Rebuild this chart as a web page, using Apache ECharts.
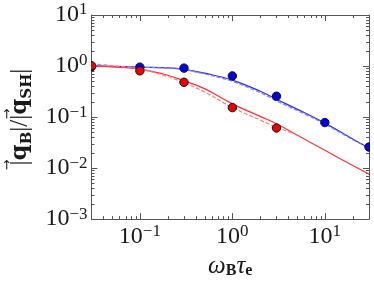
<!DOCTYPE html>
<html>
<head>
<meta charset="utf-8">
<script src="https://cdn.jsdelivr.net/npm/echarts@6/dist/echarts.min.js"></script>
<style>
html,body{margin:0;padding:0;background:#fff;}
#c{width:374px;height:284px;}
</style>
</head>
<body>
<div id="c"></div>
<script>
// ---- data ----
const xMin = 0.03, xMax = 30;
const yMin = 0.001, yMax = 10;

const dotX = [0.03, 0.1, 0.3, 1, 3, 10, 30];
const blueDots = [0.97, 0.95, 0.91, 0.64, 0.256, 0.078, 0.0258];
const redDotX = [0.03, 0.1, 0.3, 1, 3];
const redDots = [1.01, 0.805, 0.48, 0.153, 0.061];

const lineX = [0.03, 0.05, 0.1, 0.2, 0.3, 0.5, 1, 2, 3, 5, 10, 20, 30];
const blueSolid  = [1.01, 0.99, 0.95, 0.92, 0.86, 0.725, 0.53, 0.32, 0.223, 0.143, 0.076, 0.037, 0.0247];
const blueDashed = [1.0, 0.98, 0.95, 0.91, 0.85, 0.70, 0.50, 0.30, 0.208, 0.135, 0.073, 0.036, 0.0245];
const redSolid   = [1.0, 0.96, 0.87, 0.66, 0.515, 0.36, 0.181, 0.103, 0.074, 0.0444, 0.0223, 0.0112, 0.0076];
const redDashedX = [0.03, 0.05, 0.1, 0.2, 0.3, 0.5, 1, 2, 3, 4.5];
const redDashed  = [1.1, 1.02, 0.87, 0.62, 0.47, 0.31, 0.153, 0.087, 0.063, 0.048];

const xDecades = [-2, -1, 0, 1];
const yDecades = [-3, -2, -1, 0];
const minorMults = [2, 3, 4, 5, 6, 7, 8, 9];

// ---- helpers ----
function minorTicks(decades, lo, hi) {
  const out = [];
  decades.forEach(d => minorMults.forEach(m => {
    const v = m * Math.pow(10, d);
    if (v > lo * 1.0001 && v < hi * 0.9999) out.push(v);
  }));
  return out;
}
const xMinor = minorTicks(xDecades, xMin, xMax);
const yMinor = minorTicks(yDecades, yMin, yMax);

function sciLabel(v) {
  const e = Math.log10(v);
  const r = Math.round(e);
  if (Math.abs(e - r) > 1e-6) return '';
  return '{b|10}{s|' + (r < 0 ? '\u2212' + (-r) : String(r)) + '}';
}
const serif = 'Liberation Serif';
const ink = '#1a1a1a';
const labelRich = {
  b: {fontSize: 24, fontFamily: serif, color: ink, lineHeight: 27},
  s: {fontSize: 17, fontFamily: serif, color: ink, lineHeight: 16, verticalAlign: 'top'}
};
const frameColor = '#555';

function logAxis(pos, min, max, showLabel, extra) {
  return Object.assign({
    type: 'log', logBase: 10, position: pos, min: min, max: max,
    axisLine: {show: true, onZero: false, lineStyle: {color: frameColor, width: 1}},
    axisTick: {show: true, inside: true, length: 6, lineStyle: {color: frameColor, width: 1}},
    splitLine: {show: false},
    minorTick: {show: false},
    axisLabel: {show: showLabel, formatter: sciLabel, rich: labelRich, margin: 4, showMinLabel: true, showMaxLabel: true}
  }, extra || {});
}

function lineSeries(xs, ys, color, dashed, w) {
  return {
    type: 'line', xAxisIndex: 0, yAxisIndex: 0,
    data: xs.map((x, i) => [x, ys[i]]),
    smooth: 0.4, showSymbol: false, symbol: 'none', silent: true,
    lineStyle: {color: color, width: w, type: dashed ? [4, 2] : 'solid'},
    z: 2
  };
}

function dotSeries(xs, ys, color, z) {
  return {
    type: 'custom', coordinateSystem: 'cartesian2d', xAxisIndex: 0, yAxisIndex: 0,
    clip: true, z: z, silent: true,
    data: xs.map((x, i) => [x, ys[i]]),
    encode: {x: 0, y: 1},
    renderItem: function (params, api) {
      const p = api.coord([api.value(0), api.value(1)]);
      return {type: 'circle', shape: {cx: p[0], cy: p[1], r: 4.2},
        style: {fill: color, stroke: '#111', lineWidth: 1}};
    }
  };
}

function minorTickSeries(values, isX) {
  return {
    type: 'custom', coordinateSystem: 'cartesian2d', xAxisIndex: 0, yAxisIndex: 0,
    silent: true, z: 1,
    data: values.map(v => isX ? [v, 1] : [1, v]),
    encode: {x: 0, y: 1},
    renderItem: function (params, api) {
      const cs = params.coordSys;
      const p = api.coord([api.value(0), api.value(1)]);
      const st = {stroke: frameColor, lineWidth: 1};
      const L = 3;
      if (isX) {
        const x = Math.round(p[0]) + 0.5;
        return {type: 'group', children: [
          {type: 'line', shape: {x1: x, y1: cs.y + cs.height, x2: x, y2: cs.y + cs.height - L}, style: st},
          {type: 'line', shape: {x1: x, y1: cs.y, x2: x, y2: cs.y + L}, style: st}
        ]};
      } else {
        const y = Math.round(p[1]) + 0.5;
        return {type: 'group', children: [
          {type: 'line', shape: {x1: cs.x, y1: y, x2: cs.x + L, y2: y}, style: st},
          {type: 'line', shape: {x1: cs.x + cs.width, y1: y, x2: cs.x + cs.width - L, y2: y}, style: st}
        ]};
      }
    }
  };
}

const dvs = 'DejaVu Serif';
const chart = echarts.init(document.getElementById('c'), null, {renderer: 'canvas'});
chart.setOption({
  animation: false,
  backgroundColor: '#fff',
  grid: {left: 82, top: 15, right: 5, bottom: 47, containLabel: false},
  xAxis: [
    logAxis('bottom', xMin, xMax, true, {
      name: '{w|\u03c9}{sb|B}{w|\u03c4}{sb|e}',
      nameLocation: 'middle', nameGap: 22,
      nameTextStyle: {rich: {
        w: {fontSize: 25, fontFamily: serif, fontStyle: 'italic', color: ink, lineHeight: 26},
        sb: {fontSize: 16, fontFamily: serif, fontWeight: 'bold', color: ink, lineHeight: 16, verticalAlign: 'bottom'}
      }}
    }),
    logAxis('top', xMin, xMax, false)
  ],
  yAxis: [
    logAxis('left', yMin, yMax, true, {
      name: '{t||}{q|q}{sb|B}{t||/|}{q|q}{sb|SH}{t||}',
      nameLocation: 'middle', nameGap: 52,
      nameTextStyle: {rich: {
        t: {fontSize: 25, fontFamily: serif, color: ink, lineHeight: 28},
        q: {fontSize: 23, fontFamily: dvs, fontWeight: 'bold', color: ink, lineHeight: 28},
        sb: {fontSize: 15, fontFamily: dvs, fontWeight: 'bold', color: ink, lineHeight: 16, verticalAlign: 'bottom'}
      }}
    }),
    logAxis('right', yMin, yMax, false)
  ],
  graphic: [
    {type: 'text', x: 8, y: 165, rotation: Math.PI / 2, silent: true,
      style: {text: '\u2192', font: '13px "DejaVu Sans"', align: 'center', verticalAlign: 'middle', fill: ink}},
    {type: 'text', x: 8, y: 114, rotation: Math.PI / 2, silent: true,
      style: {text: '\u2192', font: '13px "DejaVu Sans"', align: 'center', verticalAlign: 'middle', fill: ink}}
  ],
  series: [
    minorTickSeries(xMinor, true),
    minorTickSeries(yMinor, false),
    lineSeries(lineX, blueSolid, '#2b2bff', false, 1.2),
    lineSeries(lineX, blueDashed, '#7f7fff', true, 1.2),
    lineSeries(lineX, redSolid, '#ff3333', false, 1.2),
    lineSeries(redDashedX, redDashed, '#ff8080', true, 1.2),
    dotSeries(dotX, blueDots, '#0000ee', 5),
    dotSeries(redDotX, redDots, '#ee0000', 6)
  ]
});
</script>
</body>
</html>
